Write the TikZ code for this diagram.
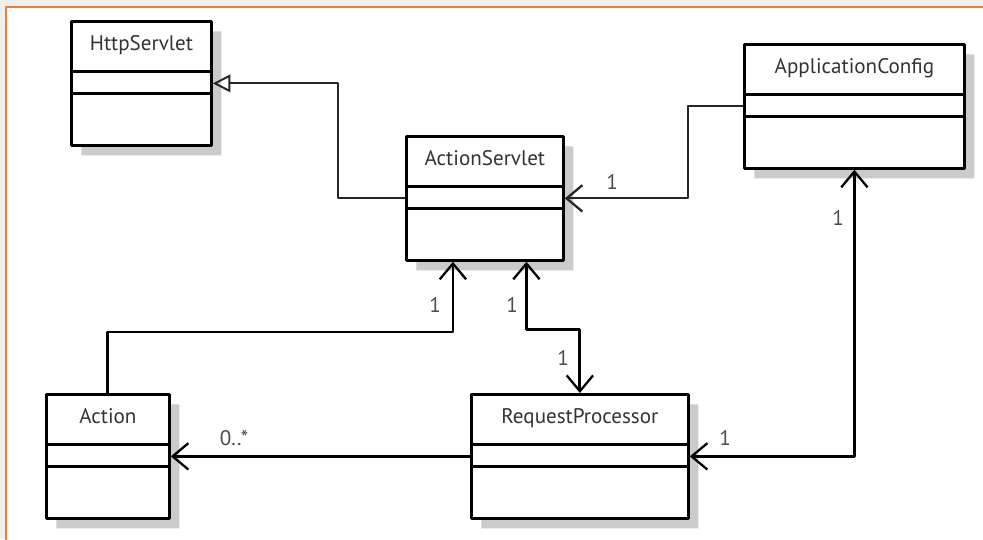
\documentclass[tikz,border=0pt]{standalone}
\usepackage{fontspec}
\setmainfont{PT Sans}
\usetikzlibrary{arrows.meta,shapes.multipart,shadows,calc}
\definecolor{frameorange}{HTML}{EE7F2D}
\newcommand{\clsname}[1]{\rule[-0.4cm]{0pt}{0.95cm}#1}
\newcommand{\clsrest}{\nodepart{two}\rule{0pt}{0.38cm}\nodepart{three}\rule{0pt}{0.98cm}}
\begin{document}
\begin{tikzpicture}[x=0.02cm,y=-0.02cm,line join=round,font=\fontsize{12}{14}\selectfont,
	umlclass/.style={rectangle split,rectangle split parts=3,draw=black,line width=1.6pt,
		fill=white,inner sep=0pt,align=center,anchor=north west,text=black!80,
		drop shadow={shadow xshift=0.2cm,shadow yshift=-0.2cm,fill=black!25,opacity=.8}},
	barb/.tip={Straight Barb[length=9pt,width=15pt,line width=1.3pt]},
	assoc/.style={line width=1.6pt,-barb},
	assocboth/.style={line width=1.6pt,barb-barb},
	assocthin/.style={line width=1.1pt,draw=black!85,-barb},
	gen/.style={line width=1.1pt,draw=black!85,-{Triangle[open,length=10pt,width=10pt,line width=1.1pt]}},
	mult/.style={text=black!70}]
	\useasboundingbox (0,0) rectangle (983,539);
	\clip (0,0) rectangle (983,539);
	\fill[black!6] (0,0) rectangle (983,539);
	\draw[frameorange,line width=1.2pt,fill=white] (6,7) rectangle (1000,560);
	% classes
	\node[umlclass,text width=2.8cm] (hs) at (70,20) {\clsname{HttpServlet}\clsrest};
	\node[umlclass,text width=3.14cm] (as) at (405,135) {\clsname{ActionServlet}\clsrest};
	\node[umlclass,text width=4.4cm] (ac) at (743,43) {\clsname{ApplicationConfig}\clsrest};
	\node[umlclass,text width=2.46cm] (act) at (45,393) {\clsname{Action}\clsrest};
	\node[umlclass,text width=4.34cm] (rp) at (470,393) {\clsname{RequestProcessor}\clsrest};
	\path
	($(as.south west)!0.3!(as.south east)$) coordinate (as1)
	($(as.south west)!0.76!(as.south east)$) coordinate (as2)
	;
	% connectors
	\draw[gen] (as.west) -- ++(-67,0) |- (hs.east);
	\draw[assocthin] (ac.west) -- ++(-55,0) |- (as.east);
	\draw[assocboth] (rp.east) -| (ac.south);
	\draw[assoc] (act.north) -- ++(0,-61) -| (as1);
	\draw[assocboth] (as2) -- ++(0,68) -| (rp.north);
	\draw[assoc] (rp.west) -- (act.east);
	% multiplicities
	\foreach \n/\p/\t in {m1/{612,182}/1,m2/{838,218}/1,m3/{725,438}/1,
		m4/{435,305}/1,m5/{512,305}/1,m6/{563,358}/1,m7/{234,438}/{0..*}}
	\node[mult] (\n) at (\p) {\t};
\end{tikzpicture}
\end{document}
